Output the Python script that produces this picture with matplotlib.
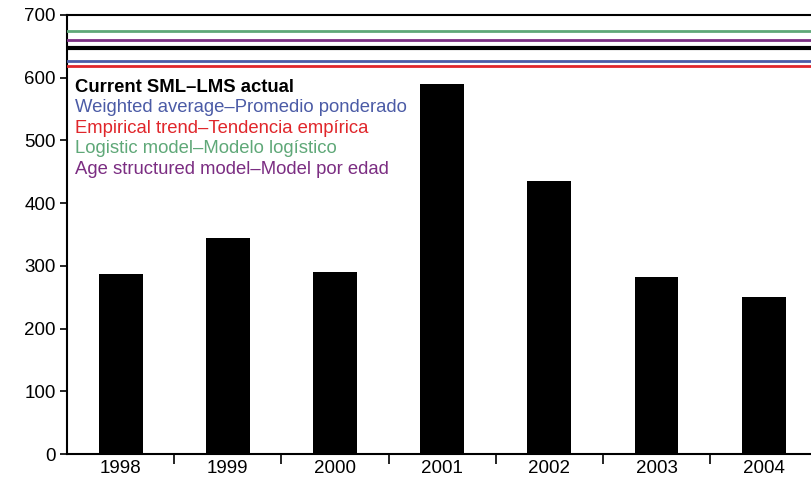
import numpy as np
from matplotlib import pyplot as plt

plt.rcParams['font.family'] = ['Liberation Sans', 'DejaVu Sans']

years = ['1998', '1999', '2000', '2001', '2002', '2003', '2004']
catch = [287, 345, 290, 590, 436, 282, 251]

# reference levels (top of chart)
ref_names = ['Current SML\u2013LMS actual',
             'Weighted average\u2013Promedio ponderado',
             'Empirical trend\u2013Tendencia emp\u00edrica',
             'Logistic model\u2013Modelo log\u00edstico',
             'Age structured model\u2013Model por edad']
ref_values = [648, 627, 619, 675, 660]
ref_colors = ['black', '#4b5ba6', '#e0262b', '#5fa878', '#7b2d82']
ref_widths = [3.0, 2.0, 2.0, 2.0, 2.0]

fig = plt.figure(figsize=(8.12, 4.82), dpi=100)
ax = fig.add_axes([0.0825, 0.058, 0.924, 0.911])

x = np.arange(len(years))
ax.bar(x, catch, width=0.41, color='black', zorder=2)

for v, c, w in zip(ref_values, ref_colors, ref_widths):
    ax.axhline(v, color=c, lw=w, zorder=3)

ax.set_xlim(-0.5, 6.5)
ax.set_ylim(0, 700)
ax.set_yticks(np.arange(0, 701, 100))
ax.set_xticks(x)
ax.set_xticklabels(years)
ax.set_xticks(np.arange(0.5, 6.0, 1.0), minor=True)
ax.tick_params(axis='x', which='major', length=0, pad=4, labelsize=13.5)
ax.tick_params(axis='x', which='minor', length=7, width=1.2, direction='out')
ax.tick_params(axis='y', length=5, width=1.2, direction='out', labelsize=13.5,
               pad=3)

for s in ['left', 'bottom', 'top']:
    ax.spines[s].set_linewidth(1.5)
ax.spines['right'].set_visible(False)

ty = 0.835
for i, (name, c) in enumerate(zip(ref_names, ref_colors)):
    ax.text(0.011, ty - i * 0.0465, name, transform=ax.transAxes, color=c,
            fontsize=13.3, fontweight='bold' if i == 0 else 'normal',
            va='center', ha='left')

fig.savefig('out.png', dpi=100)
